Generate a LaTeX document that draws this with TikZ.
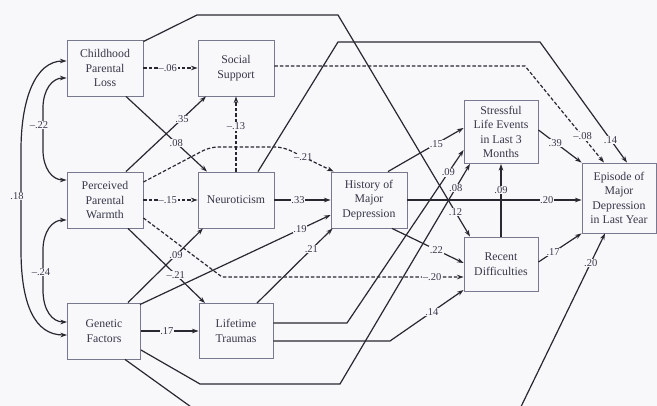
\documentclass[tikz,border=0pt]{standalone}
\usepackage{fontspec}
\setmainfont{Liberation Serif}
\usetikzlibrary{arrows.meta}
\definecolor{lnc}{RGB}{40,40,48}
\definecolor{bxc}{RGB}{120,120,142}
\definecolor{txc}{RGB}{55,55,72}
\definecolor{bgc}{RGB}{248,248,251}
\tikzset{
  box/.style={draw=bxc, line width=0.9pt, fill=bgc, align=center, text=txc,
    font=\fontsize{11.8}{14.4}\selectfont, inner sep=1pt},
  conn/.style={draw=lnc, line width=1.2pt, -{Stealth[length=6.5pt,width=4.5pt]}},
  neg/.style={conn, dash pattern=on 3.5pt off 2pt},
  corr/.style={draw=lnc, line width=1.2pt,
    {Stealth[length=6.5pt,width=4.5pt]}-{Stealth[length=6.5pt,width=4.5pt]}},
  lbl/.style={fill=bgc, inner sep=0.6pt, text=txc, font=\fontsize{10.5}{11}\selectfont},
}
\begin{document}
\begin{tikzpicture}[x=1pt,y=-1pt]
\clip (0,0) rectangle (657,406);
\fill[bgc] (0,0) rectangle (657,406);
% boxes
\node[box, minimum width=76pt, minimum height=56pt] (cpl) at (105,68) {Childhood\\Parental\\Loss};
\node[box, minimum width=76pt, minimum height=56pt] (ss) at (236,68) {Social\\Support};
\node[box, minimum width=76pt, minimum height=56pt] (ppw) at (105,200) {Perceived\\Parental\\Warmth};
\node[box, minimum width=76pt, minimum height=56pt] (neu) at (236,200) {Neuroticism};
\node[box, minimum width=76pt, minimum height=56pt] (hist) at (369,200) {History of\\Major\\Depression};
\node[box, minimum width=74pt, minimum height=63pt] (sle) at (501,132) {Stressful\\Life Events\\in Last 3\\Months};
\node[box, minimum width=74pt, minimum height=54pt] (rd) at (501,264) {Recent\\Difficulties};
\node[box, minimum width=74pt, minimum height=70pt] (ep) at (619,198) {Episode of\\Major\\Depression\\in Last Year};
\node[box, minimum width=73pt, minimum height=56pt] (gf) at (104,331) {Genetic\\Factors};
\node[box, minimum width=74pt, minimum height=55pt] (lt) at (236,331) {Lifetime\\Traumas};

% correlations
\draw[corr] ([yshift=-10pt]cpl.west) .. controls (52,78) and (43,90) .. (43,108)
  -- node[lbl,pos=0.4,xshift=-4pt] {--.22} (43,150)
  .. controls (43,168) and (52,180) .. ([yshift=20pt]ppw.west);
\draw[corr] ([yshift=-20pt]ppw.west) .. controls (52,220) and (43,232) .. (43,250)
  -- node[lbl,pos=0.55,xshift=-2pt] {--.24} (43,290)
  .. controls (43,310) and (52,322) .. ([yshift=9pt]gf.west);
\draw[corr] ([yshift=7pt]cpl.west) .. controls (35,61) and (21,100) .. (21,150)
  -- node[lbl,pos=0.46,xshift=-4pt] {.18} (21,250)
  .. controls (21,305) and (35,335) .. ([yshift=-4pt]gf.west);

% paths from Childhood Parental Loss
\draw[neg] (cpl.east) -- node[lbl,pos=0.45] {--.06} (ss.west);
\draw[conn] ([xshift=21pt]cpl.south) -- node[lbl,pos=0.62] {.08} ([xshift=-29pt]neu.north);
\draw[conn] ([yshift=-2pt]cpl.north east) -- (197,15) -- (338,15)
  -- node[lbl,pos=0.89] {.12} ([xshift=-31pt]rd.north);

% paths from Perceived Parental Warmth
\draw[conn] ([xshift=21pt]ppw.north) -- node[lbl,pos=0.7] {.35} ([xshift=-30pt]ss.south);
\draw[neg] (ppw.east) -- node[lbl,pos=0.45] {--.15} (neu.west);
\draw[neg, rounded corners=8pt] ([yshift=18pt]ppw.east) -- (210,147) -- (283,147)
  -- node[lbl,pos=0.4] {--.21} ([xshift=3pt]hist.north west);
\draw[neg] ([yshift=-18pt]ppw.east) -- (222,277)
  -- node[lbl,pos=0.87] {--.20} ([yshift=-13pt]rd.west);
\draw[conn] ([xshift=23pt]ppw.south) -- node[lbl,pos=0.62] {--.21} ([xshift=-31pt]lt.north);

% paths from Neuroticism
\draw[neg] (neu.north) -- node[lbl,pos=0.6] {--.13} (ss.south);
\draw[conn] (neu.east) -- node[lbl,pos=0.42] {.33} (hist.west);
\draw[conn] ([xshift=22pt]neu.north) -- (338,42) -- (540,42)
  -- node[lbl,pos=0.81] {.14} ([xshift=8pt]ep.north);

% Social Support
\draw[neg] ([yshift=2pt]ss.east) -- (525,66)
  -- node[lbl,pos=0.73] {--.08} ([xshift=-15pt]ep.north);

% Genetic Factors
\draw[conn] ([xshift=24pt]gf.north) -- node[lbl,pos=0.64] {.09} ([xshift=-33pt]neu.south);
\draw[conn] ([xshift=-1pt,yshift=-2pt]gf.north east) -- node[lbl,pos=0.84] {.19} ([yshift=-15pt]hist.west);
\draw[conn] (gf.east) -- node[lbl,pos=0.45] {.17} (lt.west);
\draw[conn] ([yshift=-19pt]gf.east) -- (200,384) -- (340,384)
  -- node[lbl,pos=0.89] {.08} ([xshift=-31pt]sle.south);
\draw[conn] ([xshift=21pt]gf.south) -- (205,417) -- (516,417)
  -- node[lbl,pos=0.84] {.20} ([xshift=-14pt]ep.south);

% Lifetime Traumas
\draw[conn] ([xshift=21pt]lt.north) -- node[lbl,pos=0.72] {.21} ([xshift=2pt]hist.south west);
\draw[conn] ([yshift=8pt]lt.east) -- (347,323)
  -- node[lbl,pos=0.87] {.09} ([yshift=-18pt]sle.west);
\draw[conn] ([yshift=-10pt]lt.east) -- (390,341)
  -- node[lbl,pos=0.57] {.14} ([yshift=-26pt]rd.west);

% History of Major Depression
\draw[conn] ([xshift=19pt]hist.north) -- node[lbl,pos=0.64] {.15} ([yshift=4pt]sle.west);
\draw[conn] ([xshift=23pt]hist.south) -- node[lbl,pos=0.62] {.22} ([yshift=1pt]rd.west);
\draw[conn] (hist.east) -- node[lbl,pos=0.8] {.20} ([yshift=-2pt]ep.west);

% Recent Difficulties and Stressful Life Events
\draw[conn] (rd.north) -- node[lbl,pos=0.64] {.09} (sle.south);
\draw[conn] ([yshift=2pt]sle.east) -- node[lbl,pos=0.39] {.39} (ep.north west);
\draw[conn] ([yshift=2pt]rd.east) -- node[lbl,pos=0.34] {.17} (ep.south west);
\end{tikzpicture}
\end{document}
